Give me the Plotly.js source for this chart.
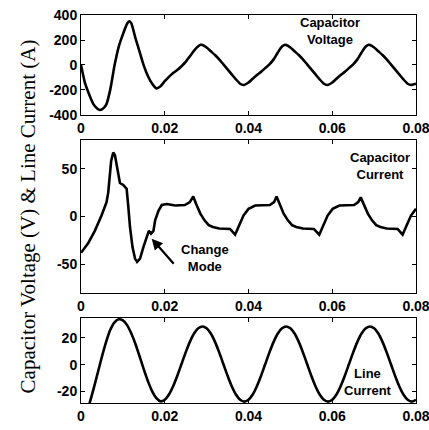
<!DOCTYPE html>
<html>
<head>
<meta charset="utf-8">
<script src="https://cdn.plot.ly/plotly-3.0.1.min.js"></script>
<style>html,body{margin:0;padding:0;background:#fff;}#chart{width:429px;height:430px;}</style>
</head>
<body>
<div id="chart"></div>
<script>
// Capacitor voltage (V)
const vTime = [0,0.001,0.002,0.003,0.004,0.0045,0.005,0.006,0.007,0.008,0.009,0.010,0.011,0.0115,0.012,0.013,0.014,0.015,0.016,0.017,0.018,0.019,0.020,0.021,0.022,0.023,0.024,0.025,0.026,0.027,0.028,0.0286,0.029,0.030,0.031,0.032,0.033,0.034,0.035,0.036,0.037,0.038,0.0388,0.039,0.040,0.041,0.042,0.043,0.044,0.045,0.046,0.047,0.048,0.0487,0.049,0.050,0.051,0.052,0.053,0.054,0.055,0.056,0.057,0.058,0.0588,0.059,0.060,0.061,0.062,0.063,0.064,0.065,0.066,0.067,0.068,0.0687,0.069,0.070,0.071,0.072,0.073,0.074,0.075,0.076,0.077,0.078,0.0788,0.079,0.080];
const vCap = [0,-150,-240,-315,-352,-360,-356,-320,-195,-5,145,245,330,350,335,215,105,-5,-90,-150,-187,-170,-130,-95,-65,-40,-10,25,70,115,150,162,160,140,110,80,45,5,-35,-75,-115,-150,-160,-159,-140,-110,-80,-55,-25,5,45,100,148,162,160,140,110,80,45,5,-35,-75,-115,-150,-160,-159,-140,-110,-80,-55,-25,5,45,100,148,162,160,140,110,80,45,5,-35,-75,-115,-150,-160,-158,-150];

// Capacitor current (A)
const iTime = [0,0.0017,0.0033,0.0049,0.0061,0.0065,0.0072,0.0077,0.0081,0.0088,0.0093,0.0101,0.0109,0.0113,0.0117,0.0123,0.0129,0.0134,0.0141,0.0149,0.0157,0.0162,0.0167,0.0173,0.0177,0.0185,0.0193,0.0205,0.0225,0.0248,0.0260,0.0268,0.0275,0.0285,0.0295,0.0305,0.0315,0.0330,0.0356,0.0368,0.0376,0.0388,0.0400,0.0416,0.0451,0.0461,0.0467,0.0474,0.0484,0.0494,0.0504,0.0514,0.0530,0.0556,0.0569,0.0577,0.0589,0.0601,0.0617,0.0652,0.0662,0.0668,0.0675,0.0685,0.0695,0.0705,0.0715,0.0730,0.0756,0.0768,0.0776,0.0788,0.0800];
const iCap = [-38,-28,-15,1,15,25,58,67,64,48,35,33,29,10,-11,-32,-44,-47.5,-44,-32,-20,-15,-18,-15,-4,6,12,13,11.5,12,15,21,13,3,-4,-9,-11,-12.5,-13,-19,-11,1,8,11.5,12,15,21,13,3,-4,-9,-11,-12.5,-13,-19,-11,1,8,11.5,12,15,20,13,3,-4,-9,-11,-12.5,-13,-19,-11,1,8];

// Line current (A)
const lTime = [0,0.001,0.002,0.003,0.004,0.005,0.006,0.007,0.008,0.009,0.010,0.011,0.012,0.013,0.014,0.015,0.016,0.017,0.018,0.019,0.020,0.021,0.022,0.023,0.024,0.025,0.026,0.027,0.028,0.029,0.030,0.031,0.032,0.033,0.034,0.035,0.036,0.037,0.038,0.039,0.040,0.041,0.042,0.043,0.044,0.045,0.046,0.047,0.048,0.049,0.050,0.051,0.052,0.053,0.054,0.055,0.056,0.057,0.058,0.059,0.060,0.061,0.062,0.063,0.064,0.065,0.066,0.067,0.068,0.069,0.070,0.071,0.072,0.073,0.074,0.075,0.076,0.077,0.078,0.079,0.080];
const lCur = [-42,-36,-29,-18,-6,6,17,26,31.5,33.8,33,29.5,23.4,15.4,6.1,-3.5,-12.4,-19.8,-24.9,-27.3,-26.1,-22.2,-16,-8.2,0.5,9.2,17,23.2,27.1,28.5,27.1,23.2,17,9.2,0.5,-8.2,-16,-22.2,-26.1,-27.5,-26.1,-22.2,-16,-8.2,0.5,9.2,17,23.2,27.1,28.5,27.1,23.2,17,9.2,0.5,-8.2,-16,-22.2,-26.1,-27.5,-26.1,-22.2,-16,-8.2,0.5,9.2,17,23.2,27.1,28.5,27.1,23.2,17,9.2,0.5,-8.2,-16,-22.2,-26.1,-27.5,-26.1];

const xTicks = [0,0.02,0.04,0.06,0.08];
const xTickText = ['0','0.02','0.04','0.06','0.08'];
const y1Ticks = [-400,-200,0,200,400];
const y1TickText = ['-400','-200','0','200','400'];
const y2Ticks = [-50,0,50];
const y2TickText = ['-50','0','50'];
const y3Ticks = [-20,0,20];
const y3TickText = ['-20','0','20'];

const yTitle = 'Capacitor Voltage (V) &amp; Line Current (A)';

const tickFont = {family:'Arial, Liberation Sans, sans-serif', size:14, color:'#000', weight:'bold'};
const annFont = {family:'Arial, Liberation Sans, sans-serif', size:13, color:'#000', weight:'bold'};
const titleFont = {family:'Liberation Serif, Times New Roman, serif', size:21, color:'#000'};
const lineStyle = {color:'#000', width:2.6};

function xAx(a){
  return {range:[0,0.08], tickvals:xTicks, ticktext:xTickText, ticks:'inside', ticklen:4, tickcolor:'#000',
    showline:true, linecolor:'#000', linewidth:1, mirror:'ticks', showgrid:false, zeroline:false,
    tickfont:tickFont, anchor:a, ticklabeloverflow:'allow'};
}
function yAx(range, ticks, text, dom, a){
  return {range:range, tickvals:ticks, ticktext:text, ticks:'inside', ticklen:4, tickcolor:'#000', domain:dom,
    showline:true, linecolor:'#000', linewidth:1, mirror:'ticks', showgrid:false, zeroline:false,
    tickfont:tickFont, anchor:a, ticklabeloverflow:'allow'};
}

const traces = [
  {x:vTime, y:vCap, mode:'lines', line:Object.assign({shape:'spline', smoothing:0.6}, lineStyle), xaxis:'x', yaxis:'y', hoverinfo:'skip'},
  {x:iTime, y:iCap, mode:'lines', line:lineStyle, xaxis:'x2', yaxis:'y2', hoverinfo:'skip'},
  {x:lTime, y:lCur, mode:'lines', line:Object.assign({shape:'spline', smoothing:0.6}, lineStyle), xaxis:'x3', yaxis:'y3', hoverinfo:'skip'}
];

const y2 = yAx([-80,80], y2Ticks, y2TickText, [0.2835,0.6778], 'x2');
y2.title = {text:yTitle, standoff:15, font:titleFont};

const layout = {
  width:429, height:430, showlegend:false,
  paper_bgcolor:'#fff', plot_bgcolor:'#fff',
  margin:{l:81, r:13, t:15, b:27},
  xaxis:xAx('y'), yaxis:yAx([-400,400], y1Ticks, y1TickText, [0.7423,1], 'x'),
  xaxis2:xAx('y2'), yaxis2:y2,
  xaxis3:xAx('y3'), yaxis3:yAx([-28.5,35], y3Ticks, y3TickText, [0,0.2198], 'x3'),
  annotations:[
    {xref:'x', yref:'y', x:0.0595, y:272, text:'Capacitor<br>Voltage', showarrow:false, font:annFont},
    {xref:'x2', yref:'y2', x:0.0714, y:53, text:'Capacitor<br>Current', showarrow:false, font:annFont},
    {xref:'x2', yref:'y2', x:0.0296, y:-43.75, text:'Change<br>Mode', showarrow:false, font:annFont},
    {xref:'x2', yref:'y2', x:0.01688, y:-23.2, axref:'x2', ayref:'y2', ax:0.02245, ay:-51, text:'', showarrow:true,
     arrowhead:2, arrowsize:1, arrowwidth:2.2, arrowcolor:'#000'},
    {xref:'x3', yref:'y3', x:0.0685, y:-12.8, text:'Line<br>Current', showarrow:false, font:annFont}
  ]
};

Plotly.newPlot('chart', traces, layout, {displayModeBar:false, staticPlot:true});
</script>
</body>
</html>
